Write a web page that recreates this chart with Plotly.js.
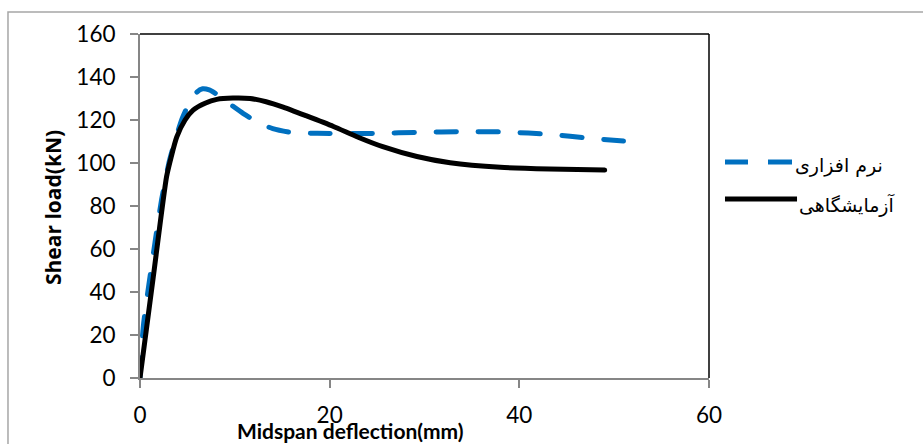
<!DOCTYPE html>
<html>
<head>
<meta charset="utf-8">
<script src="https://cdn.plot.ly/plotly-3.0.1.min.js"></script>
<style>
  html, body { margin: 0; padding: 0; background: #fff; }
  #chart { width: 923px; height: 444px; }
  .scatterlayer .js-line { stroke-linecap: round !important; }
</style>
</head>
<body>
<div id="chart"></div>
<script>
// Midspan deflection (mm) vs shear load (kN)
const softwareX = [0, 0.35, 1.58, 2.28, 3.1, 3.8, 4.46, 5.2, 6.0, 6.6, 7.3, 8.1, 9.3, 10.9, 12.6, 14, 16, 18.7, 22, 25, 29.5, 34, 38.7, 43.2, 47.5, 52];
const softwareY = [0, 24, 63, 83, 101, 112, 120.8, 128, 133, 134.5, 134, 132, 128, 123, 118.5, 116, 114.2, 113.8, 113.7, 113.8, 114.3, 114.6, 114.4, 113.3, 111.5, 109.8];

const labX = [0, 1.4, 2.8, 3.3, 3.87, 4.75, 5.6, 6.86, 8.1, 9.8, 11.6, 13.3, 15.1, 17.5, 20.4, 23, 25.6, 29.2, 32.7, 38, 43.2, 49];
const labY = [0, 47, 93.6, 103, 112, 120, 124.6, 127.8, 129.6, 130.2, 130, 128.5, 126, 122, 117, 112, 107.6, 103, 100.1, 98, 97.2, 96.7];

const seriesNames = ['نرم افزاری', 'آزمایشگاهی'];
const xTicks = [0, 20, 40, 60];
const yTicks = [0, 20, 40, 60, 80, 100, 120, 140, 160];

const blue = '#0070C0';
const tickFont = { family: 'Lato, sans-serif', size: 22.5, color: '#000' };

const traces = [
  {
    x: softwareX, y: softwareY, name: seriesNames[0], mode: 'lines',
    line: { color: blue, width: 5, dash: '20px,22px', shape: 'spline', smoothing: 0.6 }
  },
  {
    x: labX, y: labY, name: seriesNames[1], mode: 'lines',
    line: { color: '#000', width: 5, shape: 'spline', smoothing: 0.6 }
  }
];

const axisCommon = {
  showgrid: false, zeroline: false, showline: true,
  linecolor: '#868686', linewidth: 2,
  ticks: 'outside', ticklen: 8, tickwidth: 2, tickcolor: '#868686',
  tickfont: tickFont
};

const layout = {
  width: 923, height: 444,
  margin: { l: 140, r: 214, t: 34, b: 66 },
  paper_bgcolor: '#fff', plot_bgcolor: '#fff',
  showlegend: false,
  xaxis: Object.assign({}, axisCommon, {
    range: [0, 60], tickvals: xTicks, ticklabelstandoff: 8
  }),
  yaxis: Object.assign({}, axisCommon, {
    range: [0, 160], tickvals: yTicks, ticklabelstandoff: 10
  }),
  shapes: [
    // outer chart frame
    { type: 'rect', xref: 'paper', yref: 'paper', x0: -0.232, x1: 1.40, y0: -0.25, y1: 1.064,
      line: { color: '#a6a6a6', width: 1.5 }, layer: 'below' },
    // top and right edges of the plot area
    { type: 'line', xref: 'paper', yref: 'paper', x0: 0, x1: 1, y0: 1, y1: 1,
      line: { color: '#000', width: 1.5 } },
    { type: 'line', xref: 'paper', yref: 'paper', x0: 1, x1: 1, y0: 0, y1: 1,
      line: { color: '#000', width: 1.5 } },
    // legend keys
    { type: 'line', xref: 'paper', yref: 'paper', x0: 1.0281, x1: 1.0685, y0: 0.6279, y1: 0.6279,
      line: { color: blue, width: 5 } },
    { type: 'line', xref: 'paper', yref: 'paper', x0: 1.1037, x1: 1.1459, y0: 0.6279, y1: 0.6279,
      line: { color: blue, width: 5 } },
    { type: 'line', xref: 'paper', yref: 'paper', x0: 1.0281, x1: 1.1547, y0: 0.5203, y1: 0.5203,
      line: { color: '#000', width: 5 } }
  ],
  annotations: [
    { text: seriesNames[0], xref: 'paper', yref: 'paper', x: 1.3093, y: 0.6163,
      xanchor: 'right', yanchor: 'middle', showarrow: false,
      font: { family: 'DejaVu Sans, sans-serif', size: 19, color: '#000' } },
    { text: seriesNames[1], xref: 'paper', yref: 'paper', x: 1.3304, y: 0.5029,
      xanchor: 'right', yanchor: 'middle', showarrow: false,
      font: { family: 'DejaVu Sans, sans-serif', size: 19, color: '#000' } },
    { text: '<b>Midspan deflection(mm)</b>', xref: 'paper', yref: 'paper', x: 0.3708, y: -0.153,
      xanchor: 'center', yanchor: 'middle', showarrow: false,
      font: { family: 'Lato, sans-serif', size: 21, color: '#000' } },
    { text: '<b>Shear load(kN)</b>', xref: 'paper', yref: 'paper', x: -0.1529, y: 0.497,
      xanchor: 'center', yanchor: 'middle', textangle: -90, showarrow: false,
      font: { family: 'Open Sans, sans-serif', size: 21, color: '#000' } }
  ]
};

Plotly.newPlot('chart', traces, layout, { displayModeBar: false, staticPlot: true });
</script>
</body>
</html>
